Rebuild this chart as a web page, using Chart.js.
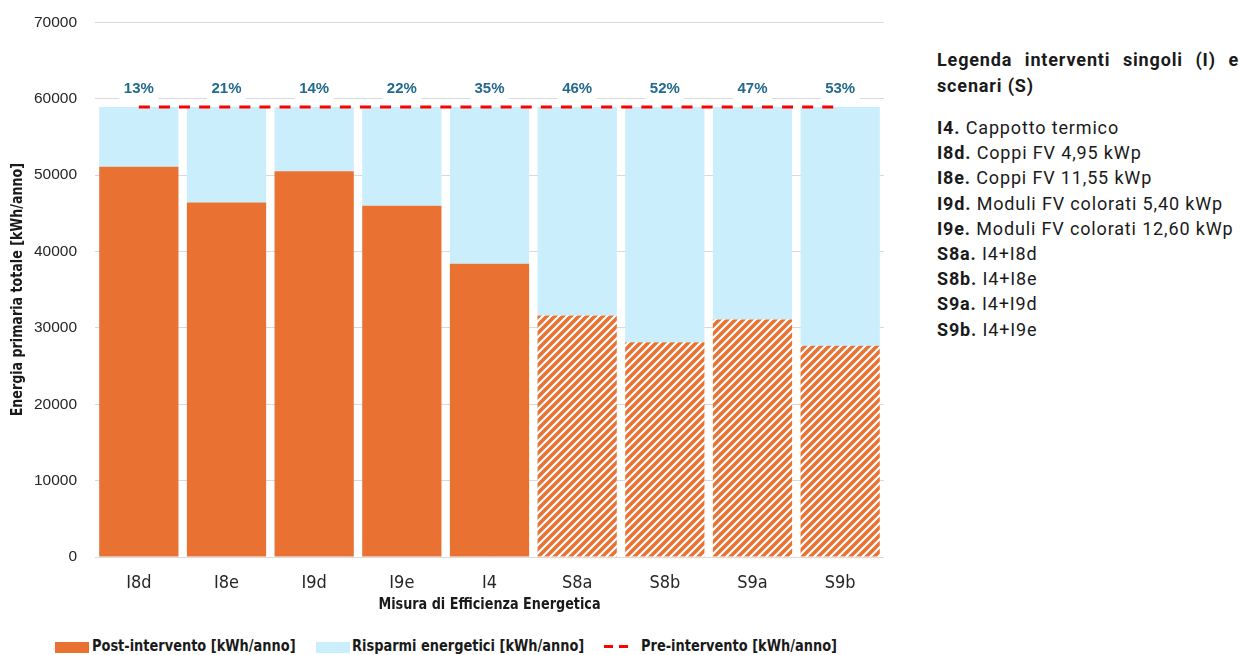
<!DOCTYPE html>
<html>
<head>
<meta charset="utf-8">
<script src="https://cdn.jsdelivr.net/npm/chart.js@4.4.1/dist/chart.umd.min.js"></script>
<style>
  body { margin: 0; background: #fff; }
  #wrap { position: relative; width: 1241px; height: 655px; overflow: hidden; background: #fff; }
  #cv { position: absolute; left: 0; top: -5px; }
  .narrow { font-family: "Liberation Sans Narrow", "DejaVu Sans Condensed", sans-serif; }
  .lg { position: absolute; top: 637px; font-weight: 700; font-size: 16px; color: #1a1a1a; line-height: 18px; white-space: nowrap; transform: scaleX(0.9); transform-origin: 0 50%; }
  .box { position: absolute; top: 642px; height: 11px; }
  .dash { position: absolute; top: 645px; height: 3px; width: 9px; background: #ff0000; }
  #side { position: absolute; left: 937px; top: 47px; width: 302px; font-family: Roboto, "Open Sans", sans-serif; color: #1a1a1a; letter-spacing: 0.85px; }
  #side .ttl { font-weight: 700; font-size: 18px; line-height: 26px; text-align: justify; text-align-last: left; }
  #side .items { margin-top: 16px; font-size: 18px; line-height: 25.2px; white-space: nowrap; }
  #side b { font-weight: 700; }
</style>
</head>
<body>
<div id="wrap">
  <canvas id="cv" width="900" height="630"></canvas>

  <div class="box" style="left:55px;width:34px;background:#E97132"></div>
  <div class="lg narrow" style="left:92px">Post-intervento [kWh/anno]</div>
  <div class="box" style="left:316px;width:34px;background:#CAEEFB"></div>
  <div class="lg narrow" style="left:352px">Risparmi energetici [kWh/anno]</div>
  <div class="dash" style="left:604px"></div>
  <div class="dash" style="left:619px"></div>
  <div class="lg narrow" style="left:641px">Pre-intervento [kWh/anno]</div>

  <div id="side">
    <div class="ttl">Legenda interventi singoli (I) e scenari (S)</div>
    <div class="items">
      <div><b>I4.</b> Cappotto termico</div>
      <div><b>I8d.</b> Coppi FV 4,95 kWp</div>
      <div><b>I8e.</b> Coppi FV 11,55 kWp</div>
      <div><b>I9d.</b> Moduli FV colorati 5,40 kWp</div>
      <div><b>I9e.</b> Moduli FV colorati 12,60 kWp</div>
      <div><b>S8a.</b> I4+I8d</div>
      <div><b>S8b.</b> I4+I8e</div>
      <div><b>S9a.</b> I4+I9d</div>
      <div><b>S9b.</b> I4+I9e</div>
    </div>
  </div>
</div>

<script>
// Interventions / scenarios on the x axis
const categories = ["I8d", "I8e", "I9d", "I9e", "I4", "S8a", "S8b", "S9a", "S9b"];
// Primary energy before any intervention [kWh/anno]
const preIntervento = [58900, 58900, 58900, 58900, 58900, 58900, 58900, 58900, 58900];
// Primary energy after the intervention [kWh/anno]
const postIntervento = [51100, 46400, 50500, 46000, 38400, 31600, 28100, 31100, 27650];
// Scenario bars (combined interventions) get a hatched fill
const isScenario = [false, false, false, false, false, true, true, true, true];
// Y axis tick values
const yTicks = [0, 10000, 20000, 30000, 40000, 50000, 60000, 70000];
// Axis titles
const xTitle = "Misura di Efficienza Energetica";
const yTitle = "Energia primaria totale [kWh/anno]";

// Savings stacked on top of the post-intervention value
const risparmi = preIntervento.map((p, i) => p - postIntervento[i]);

const ORANGE = "#E97132";
const LIGHTBLUE = "#CAEEFB";
const NARROW = '"Liberation Sans Narrow", "DejaVu Sans Condensed", sans-serif';
const SANS = '"Liberation Sans", Arial, sans-serif';

function hatchPattern() {
  const s = 8;
  const c = document.createElement("canvas");
  c.width = s; c.height = s;
  const g = c.getContext("2d");
  g.fillStyle = ORANGE;
  g.fillRect(0, 0, s, s);
  g.strokeStyle = "#ffffff";
  g.lineWidth = 2.2;
  g.beginPath();
  g.moveTo(0, s); g.lineTo(s, 0);
  g.moveTo(-s / 2, s / 2); g.lineTo(s / 2, -s / 2);
  g.moveTo(s / 2, s * 1.5); g.lineTo(s * 1.5, s / 2);
  g.stroke();
  return g.createPattern(c, "repeat");
}
const hatch = hatchPattern();

// Savings percentage written above each bar on a white label
const percentLabels = {
  id: "percentLabels",
  afterDatasetsDraw(chart) {
    const { ctx } = chart;
    const meta = chart.getDatasetMeta(1);
    const yScale = chart.scales.y;
    ctx.save();
    ctx.font = "bold 15px " + SANS;
    ctx.textAlign = "center";
    ctx.textBaseline = "middle";
    meta.data.forEach((bar, i) => {
      const pct = Math.round(risparmi[i] / preIntervento[i] * 100) + "%";
      const y = yScale.getPixelForValue(preIntervento[i]) - 19;
      ctx.fillStyle = "#ffffff";
      ctx.fillRect(bar.x - 19.5, y - 12, 39, 24);
      ctx.fillStyle = "#236A8E";
      ctx.fillText(pct, bar.x, y + 0.5);
    });
    ctx.restore();
  }
};

// Condensed bold axis titles
const axisTitles = {
  id: "axisTitles",
  afterDraw(chart) {
    const { ctx, chartArea } = chart;
    ctx.save();
    ctx.font = "bold 16px " + NARROW;
    ctx.fillStyle = "#1a1a1a";
    ctx.textAlign = "center";
    ctx.textBaseline = "middle";
    ctx.save();
    ctx.translate((chartArea.left + chartArea.right) / 2, chartArea.bottom + 48);
    ctx.scale(0.89, 1);
    ctx.fillText(xTitle, 0, 0);
    ctx.restore();
    ctx.save();
    ctx.translate(18, (chartArea.top + chartArea.bottom) / 2);
    ctx.rotate(-Math.PI / 2);
    ctx.scale(0.88, 1);
    ctx.fillText(yTitle, 0, 0);
    ctx.restore();
    ctx.restore();
  }
};

new Chart(document.getElementById("cv"), {
  type: "bar",
  data: {
    labels: categories,
    datasets: [
      {
        label: "Post-intervento [kWh/anno]",
        data: postIntervento,
        backgroundColor: isScenario.map(s => s ? hatch : ORANGE),
        stack: "bars",
        order: 1,
        barPercentage: 0.904,
        categoryPercentage: 1
      },
      {
        label: "Risparmi energetici [kWh/anno]",
        data: risparmi,
        backgroundColor: LIGHTBLUE,
        stack: "bars",
        order: 1,
        barPercentage: 0.904,
        categoryPercentage: 1
      },
      {
        type: "line",
        label: "Pre-intervento [kWh/anno]",
        data: preIntervento,
        borderColor: "#FF0000",
        borderWidth: 3,
        borderDash: [11, 9.1],
        borderCapStyle: "butt",
        pointRadius: 0,
        fill: false,
        stack: "pre",
        order: 0
      }
    ]
  },
  options: {
    responsive: false,
    animation: false,
    layout: { padding: { top: 16, right: 16, left: 0, bottom: 0 } },
    plugins: {
      legend: { display: false },
      tooltip: { enabled: false }
    },
    scales: {
      x: {
        stacked: true,
        grid: { display: false },
        border: { display: false },
        ticks: { color: "#262626", font: { family: NARROW, size: 18 }, padding: 8 },
        afterFit(s) { s.height = 68; }
      },
      y: {
        stacked: true,
        min: 0,
        max: 70000,
        afterBuildTicks(s) { s.ticks = yTicks.map(v => ({ value: v })); },
        grid: { color: "#d9d9d9", lineWidth: 1, drawTicks: false },
        border: { display: false },
        ticks: {
          color: "#262626",
          font: { family: SANS, size: 15.5 },
          padding: 18,
          callback: v => String(v)
        },
        afterFit(s) { s.width = 95; }
      }
    }
  },
  plugins: [percentLabels, axisTitles]
});
</script>
</body>
</html>
